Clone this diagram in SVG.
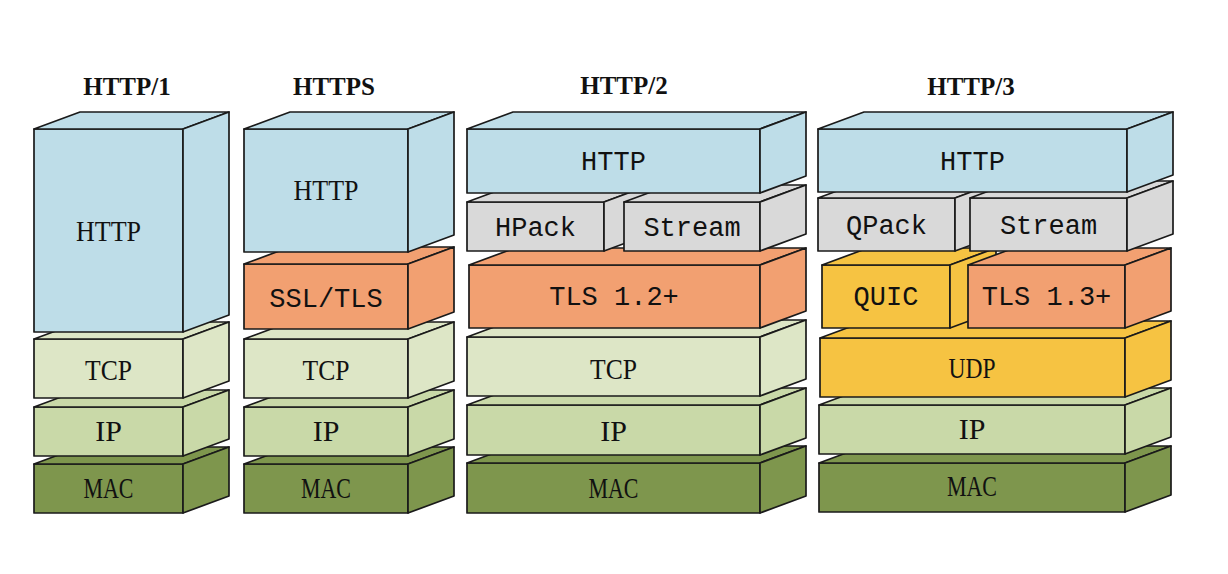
<svg xmlns="http://www.w3.org/2000/svg" width="1228" height="574" viewBox="0 0 1228 574">
<style>
.f{stroke:#1a1a1a;stroke-width:1.7;stroke-linejoin:round}
.blue{fill:#bedde8}.orange{fill:#f2a071}.gray{fill:#d9d9d9}.tcp{fill:#dde6c6}.ip{fill:#c9d9a8}.mac{fill:#7e964d}.yellow{fill:#f6c342}
.t{font-family:"Liberation Serif","Times New Roman",serif;font-size:30px;fill:#111;text-anchor:middle}
.m{font-family:"Liberation Mono","Courier New",monospace;font-size:27px;fill:#111;text-anchor:middle}
.title{font-family:"Liberation Serif","Times New Roman",serif;font-size:25px;font-weight:bold;fill:#111;text-anchor:middle}
</style>
<rect width="1228" height="574" fill="#ffffff"/>

<!-- Titles -->
<g id="titles">
<text class="title" x="127" y="95">HTTP/1</text>
<text class="title" x="334" y="95">HTTPS</text>
<text class="title" x="624" y="94">HTTP/2</text>
<text class="title" x="971" y="95">HTTP/3</text>
</g>

<!-- HTTP/1 column: x=34 w=149 -->
<g id="h1-mac">
<rect class="f mac" x="34" y="464" width="149" height="49"/>
<polygon class="f mac" points="34,464 80,447 229,447 183,464"/>
<polygon class="f mac" points="183,464 229,447 229,496 183,513"/>
<text class="t" x="108.5" y="498" textLength="50" lengthAdjust="spacingAndGlyphs">MAC</text>
</g>
<g id="h1-ip">
<rect class="f ip" x="34" y="407" width="149" height="49"/>
<polygon class="f ip" points="34,407 80,390 229,390 183,407"/>
<polygon class="f ip" points="183,407 229,390 229,439 183,456"/>
<text class="t" x="108.5" y="441">IP</text>
</g>
<g id="h1-tcp">
<rect class="f tcp" x="34" y="339" width="149" height="59"/>
<polygon class="f tcp" points="34,339 80,322 229,322 183,339"/>
<polygon class="f tcp" points="183,339 229,322 229,381 183,398"/>
<text class="t" x="108.5" y="380" textLength="47" lengthAdjust="spacingAndGlyphs">TCP</text>
</g>
<g id="h1-http">
<rect class="f blue" x="34" y="129" width="149" height="203"/>
<polygon class="f blue" points="34,129 80,112 229,112 183,129"/>
<polygon class="f blue" points="183,129 229,112 229,315 183,332"/>
<text class="t" x="108.5" y="241" textLength="65" lengthAdjust="spacingAndGlyphs">HTTP</text>
</g>

<!-- HTTPS column: x=244 w=164 -->
<g id="hs-mac">
<rect class="f mac" x="244" y="464" width="164" height="49"/>
<polygon class="f mac" points="244,464 290,447 454,447 408,464"/>
<polygon class="f mac" points="408,464 454,447 454,496 408,513"/>
<text class="t" x="326" y="498" textLength="50" lengthAdjust="spacingAndGlyphs">MAC</text>
</g>
<g id="hs-ip">
<rect class="f ip" x="244" y="407" width="164" height="49"/>
<polygon class="f ip" points="244,407 290,390 454,390 408,407"/>
<polygon class="f ip" points="408,407 454,390 454,439 408,456"/>
<text class="t" x="326" y="441">IP</text>
</g>
<g id="hs-tcp">
<rect class="f tcp" x="244" y="339" width="164" height="59"/>
<polygon class="f tcp" points="244,339 290,322 454,322 408,339"/>
<polygon class="f tcp" points="408,339 454,322 454,381 408,398"/>
<text class="t" x="326" y="380" textLength="47" lengthAdjust="spacingAndGlyphs">TCP</text>
</g>
<g id="hs-tls">
<rect class="f orange" x="244" y="264" width="164" height="65"/>
<polygon class="f orange" points="244,264 290,247 454,247 408,264"/>
<polygon class="f orange" points="408,264 454,247 454,312 408,329"/>
<text class="m" x="326" y="307">SSL/TLS</text>
</g>
<g id="hs-http">
<rect class="f blue" x="244" y="129" width="164" height="123"/>
<polygon class="f blue" points="244,129 290,112 454,112 408,129"/>
<polygon class="f blue" points="408,129 454,112 454,235 408,252"/>
<text class="t" x="326" y="200" textLength="65" lengthAdjust="spacingAndGlyphs">HTTP</text>
</g>

<!-- HTTP/2 column: x=467 w=293 -->
<g id="h2-mac">
<rect class="f mac" x="467" y="463" width="293" height="50"/>
<polygon class="f mac" points="467,463 513,446 806,446 760,463"/>
<polygon class="f mac" points="760,463 806,446 806,496 760,513"/>
<text class="t" x="613.5" y="498" textLength="50" lengthAdjust="spacingAndGlyphs">MAC</text>
</g>
<g id="h2-ip">
<rect class="f ip" x="467" y="405" width="293" height="50"/>
<polygon class="f ip" points="467,405 513,388 806,388 760,405"/>
<polygon class="f ip" points="760,405 806,388 806,438 760,455"/>
<text class="t" x="613.5" y="441">IP</text>
</g>
<g id="h2-tcp">
<rect class="f tcp" x="467" y="337" width="293" height="59"/>
<polygon class="f tcp" points="467,337 513,320 806,320 760,337"/>
<polygon class="f tcp" points="760,337 806,320 806,379 760,396"/>
<text class="t" x="613.5" y="379" textLength="47" lengthAdjust="spacingAndGlyphs">TCP</text>
</g>
<g id="h2-tls">
<rect class="f orange" x="469" y="265" width="291" height="63"/>
<polygon class="f orange" points="469,265 515,248 806,248 760,265"/>
<polygon class="f orange" points="760,265 806,248 806,311 760,328"/>
<text class="m" x="614" y="305">TLS 1.2+</text>
</g>
<g id="h2-hpack">
<rect class="f gray" x="467" y="202" width="137" height="49"/>
<polygon class="f gray" points="467,202 513,185 650,185 604,202"/>
<polygon class="f gray" points="604,202 650,185 650,234 604,251"/>
<text class="m" x="535.5" y="236">HPack</text>
</g>
<g id="h2-stream">
<rect class="f gray" x="624" y="202" width="136" height="49"/>
<polygon class="f gray" points="624,202 670,185 806,185 760,202"/>
<polygon class="f gray" points="760,202 806,185 806,234 760,251"/>
<text class="m" x="692" y="236">Stream</text>
</g>
<g id="h2-http">
<rect class="f blue" x="467" y="129" width="293" height="64"/>
<polygon class="f blue" points="467,129 513,112 806,112 760,129"/>
<polygon class="f blue" points="760,129 806,112 806,176 760,193"/>
<text class="m" x="613.5" y="170">HTTP</text>
</g>

<!-- HTTP/3 column: x=819 w=307 -->
<g id="h3-mac">
<rect class="f mac" x="819" y="463" width="306" height="49"/>
<polygon class="f mac" points="819,463 865,446 1171,446 1125,463"/>
<polygon class="f mac" points="1125,463 1171,446 1171,495 1125,512"/>
<text class="t" x="972" y="496" textLength="50" lengthAdjust="spacingAndGlyphs">MAC</text>
</g>
<g id="h3-ip">
<rect class="f ip" x="819" y="405" width="306" height="49"/>
<polygon class="f ip" points="819,405 865,388 1171,388 1125,405"/>
<polygon class="f ip" points="1125,405 1171,388 1171,437 1125,454"/>
<text class="t" x="972" y="439">IP</text>
</g>
<g id="h3-udp">
<rect class="f yellow" x="820" y="338" width="305" height="59"/>
<polygon class="f yellow" points="820,338 866,321 1171,321 1125,338"/>
<polygon class="f yellow" points="1125,338 1171,321 1171,380 1125,397"/>
<text class="t" x="972" y="378" textLength="47" lengthAdjust="spacingAndGlyphs">UDP</text>
</g>
<g id="h3-quic">
<rect class="f yellow" x="822" y="265" width="128" height="63"/>
<polygon class="f yellow" points="822,265 868,248 996,248 950,265"/>
<polygon class="f yellow" points="950,265 996,248 996,311 950,328"/>
<text class="m" x="886" y="305">QUIC</text>
</g>
<g id="h3-tls">
<rect class="f orange" x="968" y="265" width="157" height="63"/>
<polygon class="f orange" points="968,265 1014,248 1171,248 1125,265"/>
<polygon class="f orange" points="1125,265 1171,248 1171,311 1125,328"/>
<text class="m" x="1046.5" y="305">TLS 1.3+</text>
</g>
<g id="h3-qpack">
<rect class="f gray" x="818" y="198" width="137" height="53"/>
<polygon class="f gray" points="818,198 864,181 1001,181 955,198"/>
<polygon class="f gray" points="955,198 1001,181 1001,234 955,251"/>
<text class="m" x="886.5" y="234">QPack</text>
</g>
<g id="h3-stream">
<rect class="f gray" x="970" y="198" width="157" height="53"/>
<polygon class="f gray" points="970,198 1016,181 1173,181 1127,198"/>
<polygon class="f gray" points="1127,198 1173,181 1173,234 1127,251"/>
<text class="m" x="1048.5" y="234">Stream</text>
</g>
<g id="h3-http">
<rect class="f blue" x="818" y="129" width="309" height="63"/>
<polygon class="f blue" points="818,129 864,112 1173,112 1127,129"/>
<polygon class="f blue" points="1127,129 1173,112 1173,175 1127,192"/>
<text class="m" x="972.5" y="170">HTTP</text>
</g>

<g id="connectors"></g>
</svg>
